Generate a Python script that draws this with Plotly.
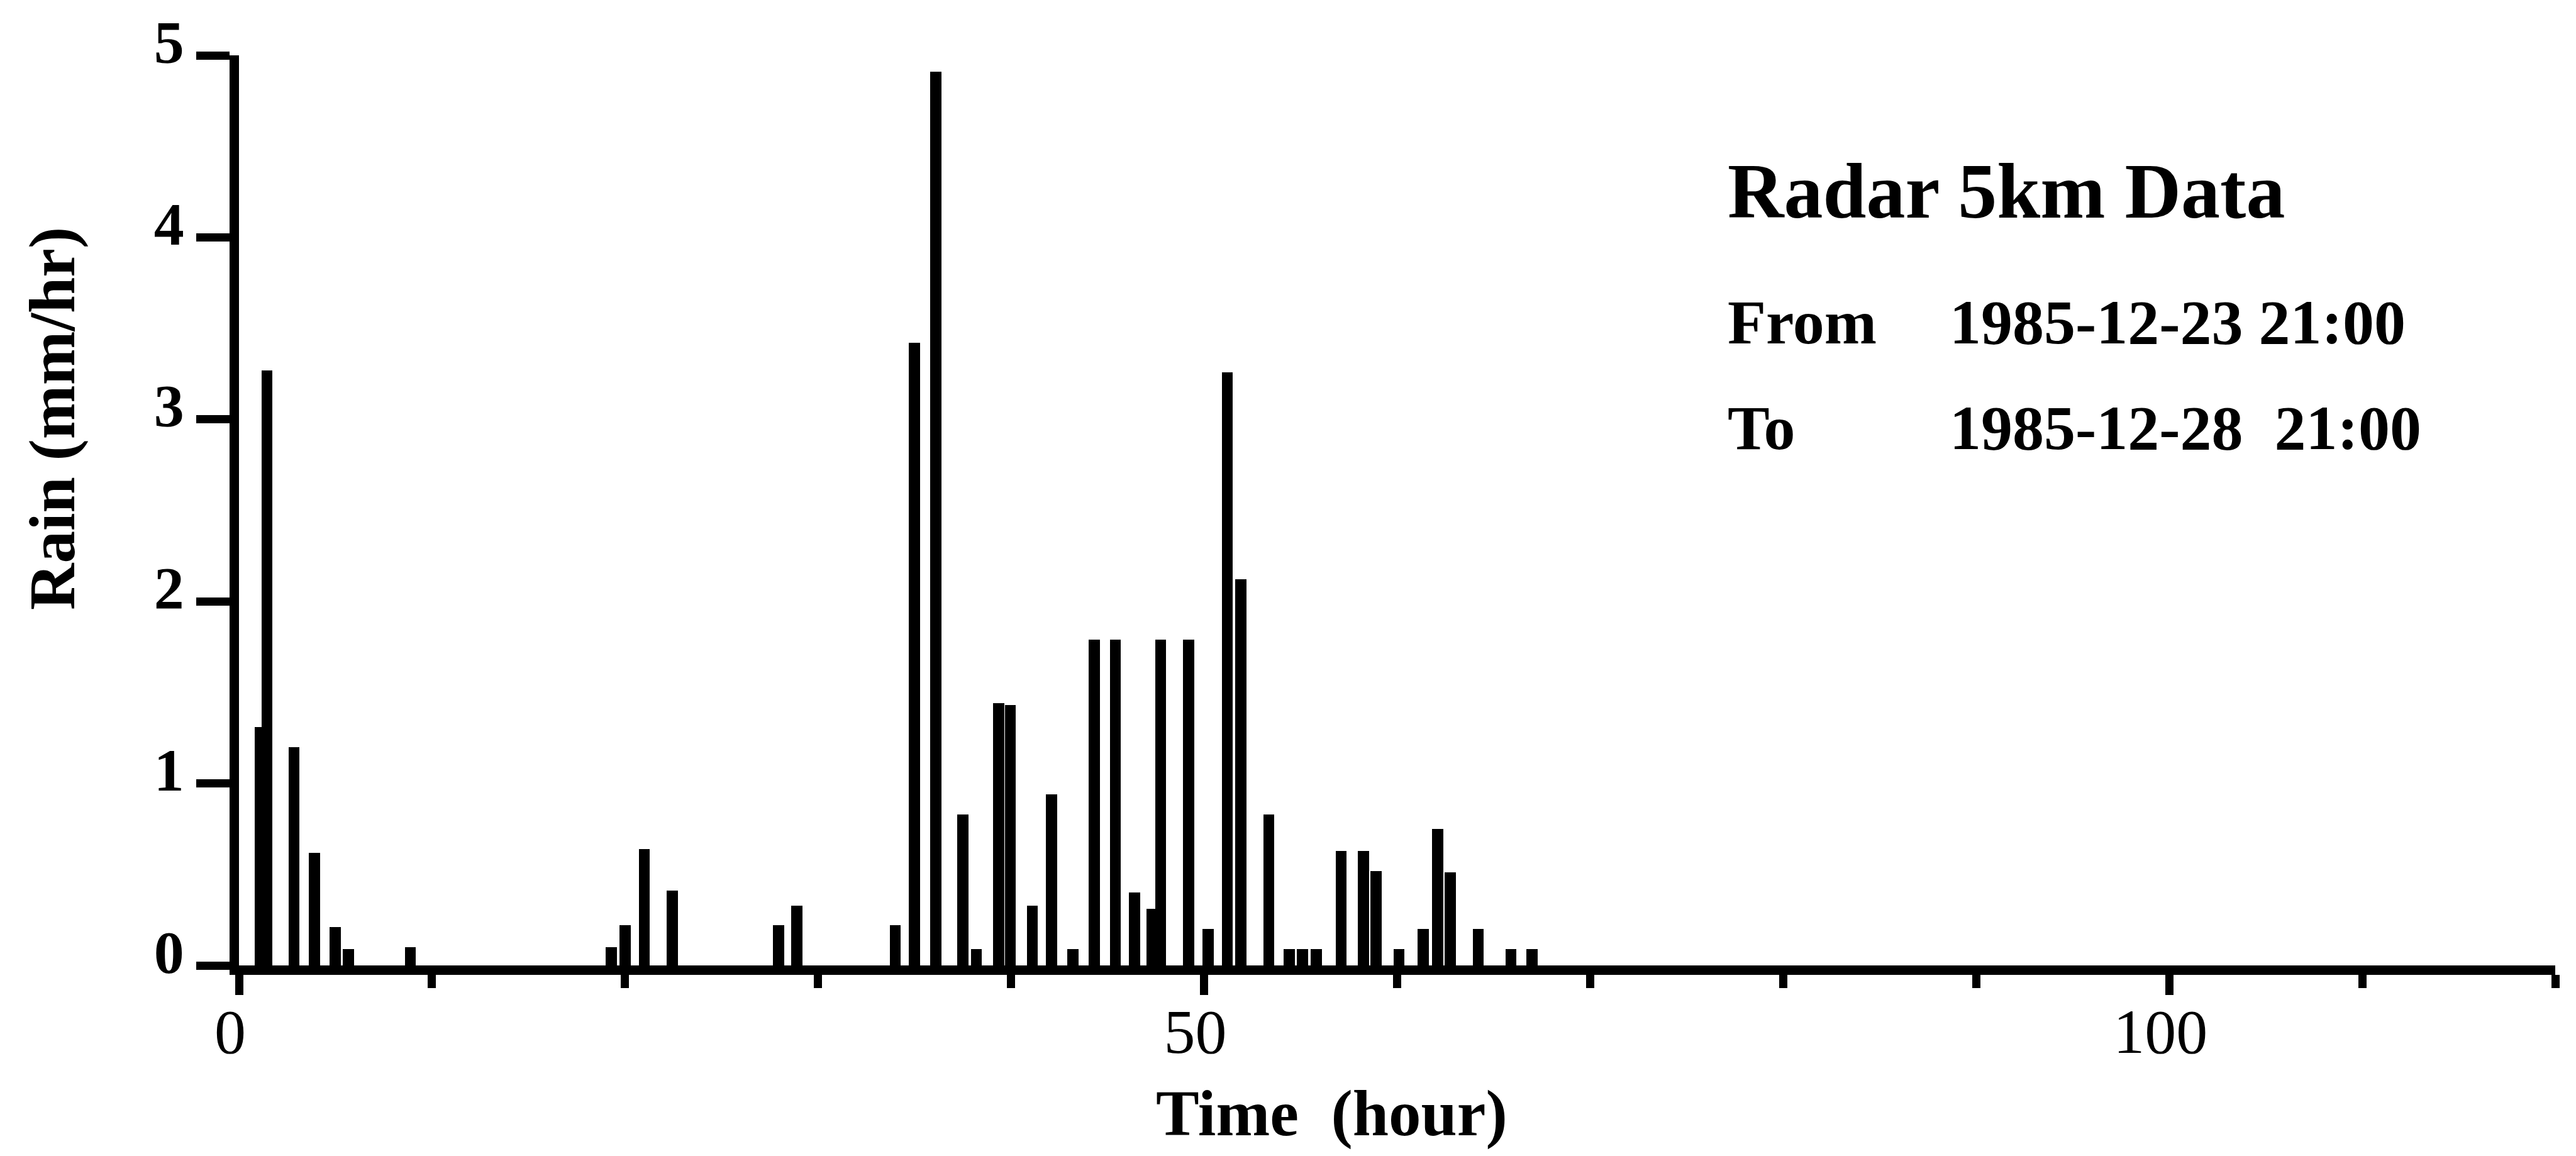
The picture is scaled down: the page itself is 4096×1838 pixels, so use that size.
import plotly.graph_objects as go

# ---- data ----
hours = [1.1, 1.45, 2.85, 3.9, 4.98, 5.68, 8.88,
         19.3, 20.0, 21.0, 22.45, 27.95, 28.9,
         34.0, 35.0, 36.1, 37.5, 38.2, 39.35, 39.96, 41.1, 42.1, 43.2,
         44.3, 45.4, 46.4, 47.3, 47.75, 49.2, 50.2, 51.2, 51.9, 53.35,
         54.4, 55.1, 55.8, 57.1, 58.25, 58.9, 60.1, 61.35, 62.1, 62.75,
         64.2, 65.9, 67.0]
rain = [1.31, 3.27, 1.2, 0.62, 0.21, 0.09, 0.1,
        0.1, 0.22, 0.64, 0.41, 0.22, 0.33,
        0.22, 3.42, 4.91, 0.83, 0.09, 1.44, 1.43, 0.33, 0.94, 0.09,
        1.79, 1.79, 0.4, 0.31, 1.79, 1.79, 0.2, 3.26, 2.12, 0.83,
        0.09, 0.09, 0.09, 0.63, 0.63, 0.52, 0.09, 0.2, 0.75, 0.51,
        0.2, 0.09, 0.09]
x_tick_vals = [0, 50, 100]
y_tick_vals = [0, 1, 2, 3, 4, 5]

title_text = "Radar 5km Data"
from_label, from_date = "From", "1985-12-23 21:00"
to_label, to_date = "To", "1985-12-28\u00a0\u00a021:00"

# ---- layout geometry (pixels) ----
W, H = 4096, 1838
L, R, T, B = 380, 4063, 88, 1535

def px(x):
    return (x - L) / (R - L)

def py(y):
    return (B - y) / (B - T)

SERIF = "Liberation Serif, Times New Roman, serif"

fig = go.Figure()
fig.add_trace(go.Bar(x=hours, y=rain, width=0.58,
                     marker=dict(color="black", line=dict(width=0)),
                     showlegend=False))

fig.update_layout(
    width=W, height=H,
    margin=dict(l=L, r=W - R, t=T, b=H - B, pad=0),
    paper_bgcolor="white", plot_bgcolor="white",
    bargap=0,
    xaxis=dict(range=[0, 120], showgrid=False, zeroline=False,
               showline=True, linewidth=15, linecolor="black",
               ticks="outside", ticklen=32, tickwidth=13, tickcolor="black",
               tickmode="array", tickvals=x_tick_vals,
               ticktext=[str(v) for v in x_tick_vals],
               tickfont=dict(family=SERIF, size=100, color="black"),
               ticklabelshift=-14, ticklabelstandoff=-28,
               minor=dict(ticks="outside", dtick=10, tick0=0, ticklen=21,
                          tickwidth=13, tickcolor="black", showgrid=False)),
    yaxis=dict(range=[0, 5], showgrid=False, zeroline=False,
               showline=True, linewidth=15, linecolor="black",
               ticks="outside", ticklen=53, tickwidth=13, tickcolor="black",
               tickmode="array", tickvals=y_tick_vals,
               ticktext=[str(v) for v in y_tick_vals],
               tickfont=dict(family=SERIF, size=96, color="black", weight="bold"),
               ticklabelshift=-22),
)

ann = []
ann.append(dict(text="Rain (mm/hr)", x=px(83), y=py(666), xref="paper", yref="paper",
                xanchor="center", yanchor="middle", textangle=-90, showarrow=False,
                font=dict(family=SERIF, size=103, color="black", weight="bold")))
ann.append(dict(text="Time\u00a0\u00a0(hour)", x=px(2117), y=py(1770), xref="paper", yref="paper",
                xanchor="center", yanchor="middle", showarrow=False,
                font=dict(family=SERIF, size=103, color="black", weight="bold")))
ann.append(dict(text=title_text, x=px(2745), y=py(305), xref="paper", yref="paper",
                xanchor="left", yanchor="middle", showarrow=False,
                font=dict(family=SERIF, size=124, color="black", weight="bold")))
for lab, date, yc in [(from_label, from_date, 512), (to_label, to_date, 680)]:
    ann.append(dict(text=lab, x=px(2745), y=py(yc), xref="paper", yref="paper",
                    xanchor="left", yanchor="middle", showarrow=False,
                    font=dict(family=SERIF, size=100, color="black", weight="bold")))
    ann.append(dict(text=date, x=px(3098), y=py(yc), xref="paper", yref="paper",
                    xanchor="left", yanchor="middle", showarrow=False,
                    font=dict(family=SERIF, size=100, color="black", weight="bold")))
fig.update_layout(annotations=ann)

fig.write_html("out.html")
